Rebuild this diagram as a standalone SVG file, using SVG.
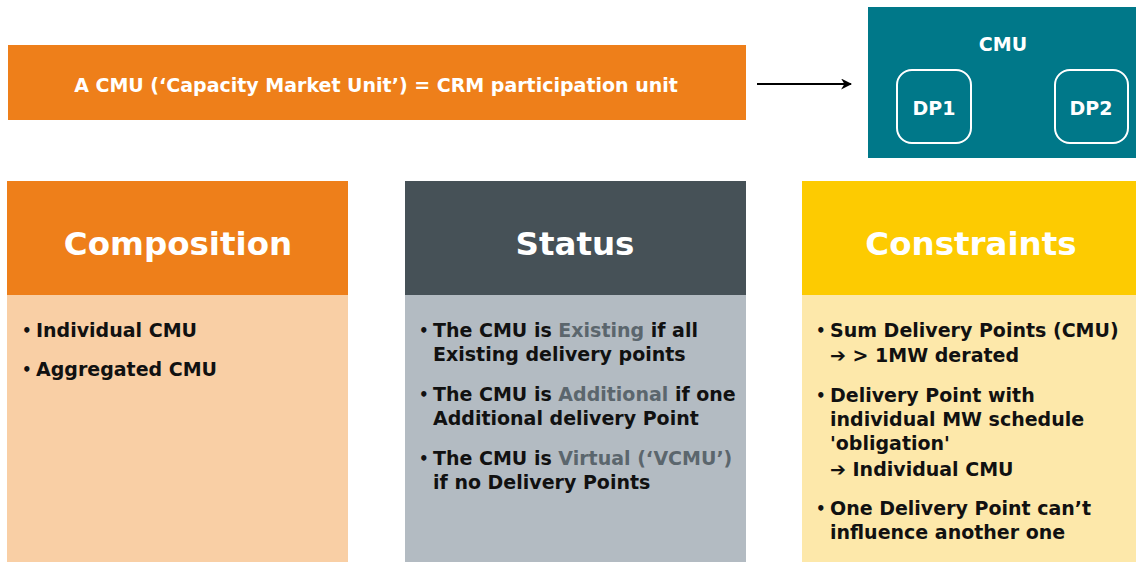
<svg xmlns="http://www.w3.org/2000/svg" width="1136" height="562" viewBox="0 0 1136 562">
<defs>
<marker id="ah" viewBox="0 0 10 10" refX="9" refY="5" markerWidth="11" markerHeight="11" markerUnits="userSpaceOnUse" orient="auto">
<path d="M0,0 L10,5 L0,10 L3,5 Z" fill="#000"/>
</marker>
<style>
text{font-family:"DejaVu Sans","Liberation Sans",sans-serif;}
.wt{fill:#fff;font-weight:700;}
.hd{fill:#fff;font-weight:700;font-size:32.5px;text-anchor:middle;}
.bd{fill:#111;font-weight:700;font-size:19px;}
.bu{font-size:15px;}
.hl{fill:#5b666d;}
.dp{fill:none;stroke:#fff;stroke-width:2;}
</style>
</defs>
<rect width="1136" height="562" fill="#fff"/>
<g id="cmu-definition">
<rect x="8" y="45" width="738" height="75" fill="#ee7f1a"/>
<text class="wt" x="376" y="92" font-size="19" text-anchor="middle">A CMU (‘Capacity Market Unit’) = CRM participation unit</text>
</g>
<g id="cmu-box">
<rect x="868" y="7" width="268" height="151" fill="#007889"/>
<text class="wt" x="1003" y="51" font-size="19" text-anchor="middle">CMU</text>
</g>
<g id="dp1">
<rect class="dp" x="897" y="70" width="74" height="73" rx="15"/>
<text class="wt" x="934" y="115" font-size="19" text-anchor="middle">DP1</text>
</g>
<g id="dp2">
<rect class="dp" x="1055" y="70" width="73" height="73" rx="15"/>
<text class="wt" x="1091" y="115" font-size="19" text-anchor="middle">DP2</text>
</g>
<g id="connectors">
<line x1="757" y1="84" x2="851" y2="84" stroke="#000" stroke-width="2.2" marker-end="url(#ah)"/>
</g>
<g id="composition">
<rect x="7" y="181" width="341" height="114" fill="#ee7f1a"/>
<rect x="7" y="295" width="341" height="267" fill="#f9cfa5"/>
<text class="hd" x="178" y="255">Composition</text>
<text class="bd" x="36" y="337">Individual CMU</text>
<text class="bd" x="36" y="376">Aggregated CMU</text>
<text class="bd bu" x="22" y="336">•</text>
<text class="bd bu" x="22" y="375">•</text>
</g>
<g id="status">
<rect x="405" y="181" width="341" height="114" fill="#465157"/>
<rect x="405" y="295" width="341" height="267" fill="#b3bbc2"/>
<text class="hd" x="575" y="255">Status</text>
<text class="bd" x="433" y="337">The CMU is <tspan class="hl">Existing</tspan> if all</text>
<text class="bd" x="433" y="361">Existing delivery points</text>
<text class="bd" x="433" y="401">The CMU is <tspan class="hl">Additional</tspan> if one</text>
<text class="bd" x="433" y="425">Additional delivery Point</text>
<text class="bd" x="433" y="465">The CMU is <tspan class="hl">Virtual (‘VCMU’)</tspan></text>
<text class="bd" x="433" y="489">if no Delivery Points</text>
<text class="bd bu" x="419" y="336">•</text>
<text class="bd bu" x="419" y="400">•</text>
<text class="bd bu" x="419" y="464">•</text>
</g>
<g id="constraints">
<rect x="802" y="181" width="334" height="114" fill="#fdcb01"/>
<rect x="802" y="295" width="334" height="267" fill="#fde8aa"/>
<text class="hd" x="971" y="255">Constraints</text>
<text class="bd" x="830" y="337">Sum Delivery Points (CMU)</text>
<text class="bd" x="830" y="362">➔ &gt; 1MW derated</text>
<text class="bd" x="830" y="402">Delivery Point with</text>
<text class="bd" x="830" y="426">individual MW schedule</text>
<text class="bd" x="830" y="450">'obligation'</text>
<text class="bd" x="830" y="476">➔ Individual CMU</text>
<text class="bd" x="830" y="515">One Delivery Point can’t</text>
<text class="bd" x="830" y="539">influence another one</text>
<text class="bd bu" x="816" y="336">•</text>
<text class="bd bu" x="816" y="401">•</text>
<text class="bd bu" x="816" y="514">•</text>
</g>
</svg>
